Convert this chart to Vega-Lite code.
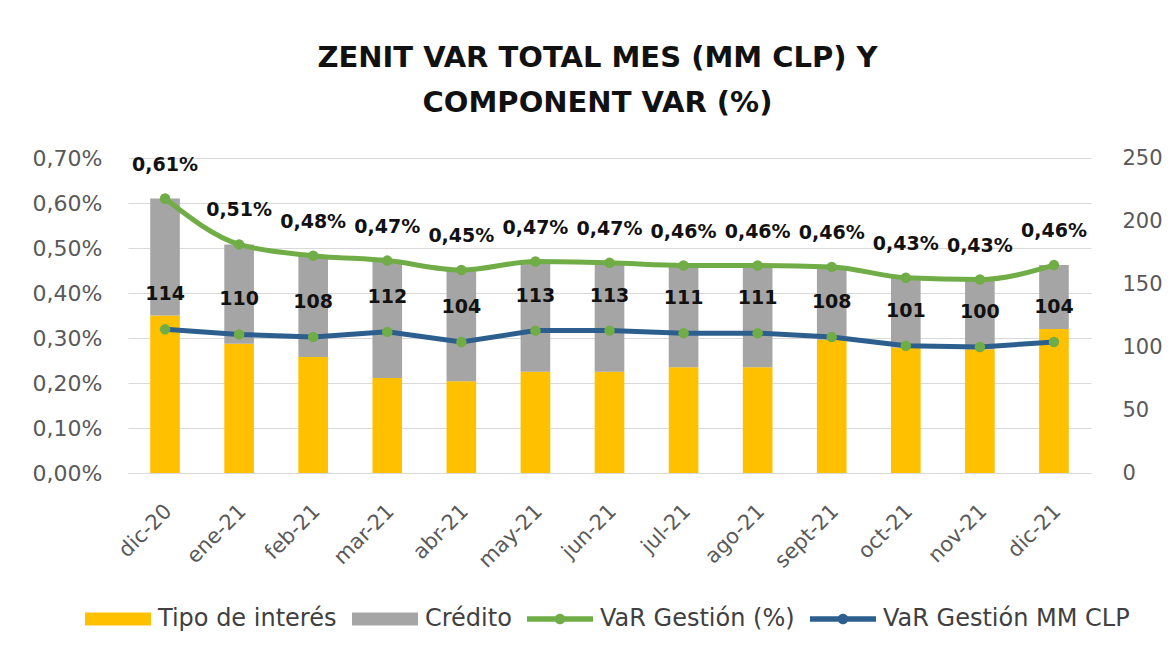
{
  "$schema": "https://vega.github.io/schema/vega-lite/v6.json",
  "width": 963,
  "height": 315,
  "autosize": {"type": "none"},
  "padding": {"left": 128, "top": 158, "right": 84, "bottom": 183},
  "background": "white",
  "config": {
    "locale": {"number": {"decimal": ",", "thousands": ".", "grouping": [3], "currency": ["$", ""]}},
    "view": {"stroke": null},
    "font": "DejaVu Sans",
    "axis": {"labelFont": "DejaVu Sans", "labelFontSize": 21, "labelColor": "#595959", "ticks": false, "domain": false, "grid": false, "title": null}
  },
  "title": {
    "text": ["ZENIT VAR TOTAL MES (MM CLP) Y", "COMPONENT VAR (%)"],
    "font": "DejaVu Sans",
    "fontWeight": "bold",
    "fontSize": 29,
    "lineHeight": 45,
    "color": "#111111",
    "anchor": "middle",
    "dx": -12,
    "offset": 29
  },
  "datasets": {
    "bars": [
      {"mes": "dic-20", "componente": "Tipo de interés", "valor": 0.00350},
      {"mes": "dic-20", "componente": "Crédito", "valor": 0.00260},
      {"mes": "ene-21", "componente": "Tipo de interés", "valor": 0.00287},
      {"mes": "ene-21", "componente": "Crédito", "valor": 0.00221},
      {"mes": "feb-21", "componente": "Tipo de interés", "valor": 0.00258},
      {"mes": "feb-21", "componente": "Crédito", "valor": 0.00225},
      {"mes": "mar-21", "componente": "Tipo de interés", "valor": 0.00211},
      {"mes": "mar-21", "componente": "Crédito", "valor": 0.00261},
      {"mes": "abr-21", "componente": "Tipo de interés", "valor": 0.00204},
      {"mes": "abr-21", "componente": "Crédito", "valor": 0.00247},
      {"mes": "may-21", "componente": "Tipo de interés", "valor": 0.00225},
      {"mes": "may-21", "componente": "Crédito", "valor": 0.00245},
      {"mes": "jun-21", "componente": "Tipo de interés", "valor": 0.00225},
      {"mes": "jun-21", "componente": "Crédito", "valor": 0.00242},
      {"mes": "jul-21", "componente": "Tipo de interés", "valor": 0.00235},
      {"mes": "jul-21", "componente": "Crédito", "valor": 0.00226},
      {"mes": "ago-21", "componente": "Tipo de interés", "valor": 0.00235},
      {"mes": "ago-21", "componente": "Crédito", "valor": 0.00226},
      {"mes": "sept-21", "componente": "Tipo de interés", "valor": 0.00296},
      {"mes": "sept-21", "componente": "Crédito", "valor": 0.00162},
      {"mes": "oct-21", "componente": "Tipo de interés", "valor": 0.00279},
      {"mes": "oct-21", "componente": "Crédito", "valor": 0.00155},
      {"mes": "nov-21", "componente": "Tipo de interés", "valor": 0.00275},
      {"mes": "nov-21", "componente": "Crédito", "valor": 0.00155},
      {"mes": "dic-21", "componente": "Tipo de interés", "valor": 0.00320},
      {"mes": "dic-21", "componente": "Crédito", "valor": 0.00142}
    ],
    "series": [
      {"mes": "dic-20", "var_pct": 0.00610, "var_mm": 114},
      {"mes": "ene-21", "var_pct": 0.00508, "var_mm": 110},
      {"mes": "feb-21", "var_pct": 0.00483, "var_mm": 108},
      {"mes": "mar-21", "var_pct": 0.00472, "var_mm": 112},
      {"mes": "abr-21", "var_pct": 0.00451, "var_mm": 104},
      {"mes": "may-21", "var_pct": 0.00470, "var_mm": 113},
      {"mes": "jun-21", "var_pct": 0.00467, "var_mm": 113},
      {"mes": "jul-21", "var_pct": 0.00461, "var_mm": 111},
      {"mes": "ago-21", "var_pct": 0.00461, "var_mm": 111},
      {"mes": "sept-21", "var_pct": 0.00458, "var_mm": 108},
      {"mes": "oct-21", "var_pct": 0.00434, "var_mm": 101},
      {"mes": "nov-21", "var_pct": 0.00430, "var_mm": 100},
      {"mes": "dic-21", "var_pct": 0.00462, "var_mm": 104}
    ]
  },
  "layer": [
    {
      "layer": [
        {
          "data": {"name": "bars"},
          "mark": {"type": "bar"},
          "encoding": {
            "x": {
              "field": "mes", "type": "nominal",
              "scale": {"domain": ["dic-20", "ene-21", "feb-21", "mar-21", "abr-21", "may-21", "jun-21", "jul-21", "ago-21", "sept-21", "oct-21", "nov-21", "dic-21"], "paddingInner": 0.6, "paddingOuter": 0.3},
              "axis": {"domain": true, "domainColor": "#d9d9d9", "domainWidth": 1, "labelAngle": -45, "labelAlign": "right", "labelBaseline": "top", "labelPadding": 27, "labelOffset": -4}
            },
            "y": {
              "field": "valor", "type": "quantitative", "stack": "zero",
              "scale": {"domain": [0, 0.007], "nice": false},
              "axis": {"values": [0, 0.001, 0.002, 0.003, 0.004, 0.005, 0.006, 0.007], "format": ".2%", "grid": true, "gridColor": "#d9d9d9", "gridWidth": 1, "labelPadding": 26, "labelFontSize": 22}
            },
            "color": {
              "field": "componente", "type": "nominal",
              "scale": {"domain": ["Tipo de interés", "Crédito", "VaR Gestión (%)", "VaR Gestión MM CLP"], "range": ["#FFC000", "#A5A5A5", "#70AD47", "#2C5F8E"]},
              "legend": {
                "orient": "none", "legendX": -43, "legendY": 428, "direction": "horizontal", "title": null,
                "symbolSize": 4356, "labelFont": "DejaVu Sans", "labelFontSize": 24, "labelColor": "#404040",
                "labelOffset": 7, "columnPadding": 15, "labelLimit": 0,
                "encode": {
                  "symbols": {
                    "update": {
                      "shape": {"signal": "(datum.value === 'Tipo de interés' || datum.value === 'Crédito') ? 'M-1,-0.2H1V0.2H-1Z' : 'M-1,-0.08H1V0.08H-1ZM-0.16,0A0.16,0.16,0,1,1,0.16,0A0.16,0.16,0,1,1,-0.16,0Z'"},
                      "fill": {"scale": "color", "field": "value"},
                      "fillOpacity": {"value": 1},
                      "opacity": {"value": 1},
                      "strokeWidth": {"value": 0}
                    }
                  }
                }
              }
            },
            "order": {"field": "componente", "sort": "descending"}
          }
        },
        {
          "data": {"name": "series"},
          "mark": {"type": "line", "strokeWidth": 5, "interpolate": "monotone"},
          "encoding": {
            "x": {"field": "mes", "type": "nominal"},
            "y": {"field": "var_pct", "type": "quantitative"},
            "color": {"datum": "VaR Gestión (%)"}
          }
        },
        {
          "data": {"name": "series"},
          "mark": {"type": "point", "filled": true, "size": 110, "color": "#70AD47", "opacity": 1},
          "encoding": {
            "x": {"field": "mes", "type": "nominal"},
            "y": {"field": "var_pct", "type": "quantitative"}
          }
        },
        {
          "data": {"name": "series"},
          "mark": {"type": "text", "dy": -34, "font": "DejaVu Sans", "fontWeight": "bold", "fontSize": 19, "color": "#111111"},
          "encoding": {
            "x": {"field": "mes", "type": "nominal"},
            "y": {"field": "var_pct", "type": "quantitative"},
            "text": {"field": "var_pct", "type": "quantitative", "format": ".2%"}
          }
        }
      ]
    },
    {
      "layer": [
        {
          "data": {"name": "series"},
          "mark": {"type": "line", "strokeWidth": 5},
          "encoding": {
            "x": {"field": "mes", "type": "nominal"},
            "y": {
              "field": "var_mm", "type": "quantitative",
              "scale": {"domain": [0, 250], "nice": false},
              "axis": {"orient": "right", "values": [0, 50, 100, 150, 200, 250], "labelPadding": 31, "grid": false}
            },
            "color": {"datum": "VaR Gestión MM CLP"}
          }
        },
        {
          "data": {"name": "series"},
          "mark": {"type": "point", "filled": true, "size": 110, "color": "#70AD47", "opacity": 1},
          "encoding": {
            "x": {"field": "mes", "type": "nominal"},
            "y": {"field": "var_mm", "type": "quantitative"}
          }
        },
        {
          "data": {"name": "series"},
          "mark": {"type": "text", "dy": -35, "font": "DejaVu Sans", "fontWeight": "bold", "fontSize": 19, "color": "#111111"},
          "encoding": {
            "x": {"field": "mes", "type": "nominal"},
            "y": {"field": "var_mm", "type": "quantitative"},
            "text": {"field": "var_mm", "type": "quantitative", "format": "d"}
          }
        }
      ]
    }
  ],
  "resolve": {"scale": {"y": "independent"}}
}
